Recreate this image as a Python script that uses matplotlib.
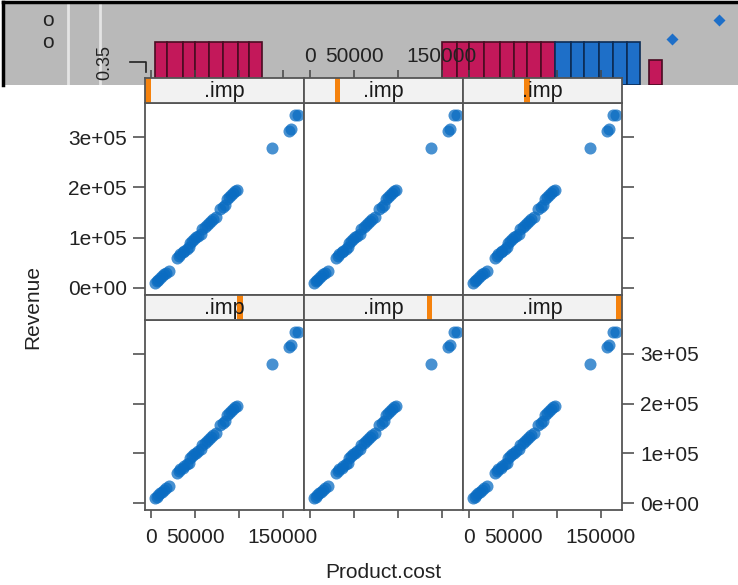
import matplotlib.pyplot as plt
import matplotlib.patches as patches
import numpy as np

plt.rcParams['font.family'] = ['Liberation Sans', 'DejaVu Sans']

# observed Product.cost / Revenue pairs (same in every .imp panel)
product_cost = [4500, 6500, 8500, 10500, 12500, 15000, 17500, 20000,
                29500, 31500, 33500, 36000, 38000, 40500, 43000,
                44000, 46500, 49000, 51500, 54000, 56500,
                58500, 61000, 63500, 66000, 68500, 71000, 73500,
                79000, 81500, 84500,
                86000, 88500, 91000, 93500, 96000, 98000,
                137500, 157000, 159000, 164000, 167000]
revenue = [10000, 13000, 16500, 19500, 23000, 27000, 30500, 34000,
           60000, 64000, 68000, 71000, 74000, 78000, 81000,
           90000, 94000, 98000, 101000, 104000, 108000,
           117000, 121000, 125000, 129000, 133000, 137000, 141000,
           157000, 161000, 165000,
           177000, 181000, 185000, 189000, 193000, 195000,
           279000, 313000, 317000, 344000, 344000]

imp_levels = [0, 1, 2, 3, 4, 5]
x_ticks = [0, 50000, 100000, 150000]
x_ticklabels = ['0', '50000', '', '150000']
y_ticks = [0, 100000, 200000, 300000]
y_ticklabels = ['0e+00', '1e+05', '2e+05', '3e+05']

# piece of another figure showing across the top (pixel units)
red_edges_1 = [155, 167, 183, 195, 209, 223, 238, 249, 262]
red_edges_2 = [442, 457, 469, 484, 500, 514, 527, 541, 555]
blue_edges = [555, 571, 584, 599, 613, 627, 640]
small_red_edges = [649, 662]
bar_top, small_bar_top, bar_base = 42, 60, 85
diamond_x = [672, 719]
diamond_y = [39, 20]

W, H = 738, 585
fig = plt.figure(figsize=(W / 100, H / 100), dpi=100)


def px_axes(x0, y0, x1, y1):
    return fig.add_axes([x0 / W, 1 - y1 / H, (x1 - x0) / W, (y1 - y0) / H])


# grey band at the top
top = px_axes(3, 2, 738, 85)
top.set_facecolor('#b9b9b9')
top.set_xlim(3, 738)
top.set_ylim(85, 2)
top.set_xticks([])
top.set_yticks([])
for s in ['bottom', 'right']:
    top.spines[s].set_visible(False)
for s in ['top', 'left']:
    top.spines[s].set_color('black')
    top.spines[s].set_linewidth(2.5)
for xv in [68, 100]:
    top.axvline(xv, color='#e4e4e4', lw=2)
for edges, col, ec, ytop in [(red_edges_1, '#C3185A', '#4a0c22', bar_top),
                             (red_edges_2, '#C3185A', '#4a0c22', bar_top),
                             (blue_edges, '#1E6FC8', '#0c2c55', bar_top),
                             (small_red_edges, '#C3185A', '#4a0c22', small_bar_top)]:
    e = np.array(edges)
    top.bar(e[:-1], bar_base - ytop, width=np.diff(e), bottom=ytop, align='edge',
            color=col, edgecolor=ec, linewidth=1.2)
top.plot(diamond_x, diamond_y, 'D', color='#1E6FC8', ms=6, mec='none')
top.text(48, 21, 'o', ha='center', va='center', fontsize=15, color='#222')
top.text(48, 42, 'o', ha='center', va='center', fontsize=15, color='#222')
top.text(105, 63, '0.35', rotation=90, ha='center', va='center', fontsize=13, color='#222')
top.plot([130, 146, 146], [62, 62, 72], color='#222', lw=1.2)

# lattice panels
col_x = [145, 304, 463, 622]
rows = [(78, 103, 295), (295, 320, 510)]
xlim = (-6800, 173900)
ylim = (-14000, 368000)
frame = '#555555'
bar_w = 0.035

for k, lev in enumerate(imp_levels):
    r, c = divmod(k, 3)
    s_top, p_top, p_bot = rows[r]
    x0, x1 = col_x[c], col_x[c + 1]

    ax = px_axes(x0, p_top, x1, p_bot)
    ax.scatter(product_cost, revenue, s=75, c='#0a6cc2', alpha=0.75, linewidths=0)
    ax.set_xlim(xlim)
    ax.set_ylim(ylim)
    ax.set_xticks(x_ticks, x_ticklabels)
    ax.set_yticks(y_ticks, y_ticklabels)
    ax.tick_params(axis='y', length=8.5, pad=4.5)
    ax.tick_params(axis='x', length=6, pad=7)
    ax.tick_params(direction='out', width=1.1, color='#444', labelsize=15, labelcolor='#222',
                   left=(c == 0), right=(c == 2), top=False, bottom=(r == 1),
                   labelleft=(c == 0 and r == 0), labelright=(c == 2 and r == 1),
                   labelbottom=(r == 1 and c != 1), labeltop=False)
    for s in ax.spines.values():
        s.set_color(frame)
        s.set_linewidth(1.3)

    st = px_axes(x0, s_top, x1, p_top)
    st.set_facecolor('#f2f2f2')
    st.set_xlim(xlim)
    st.set_ylim(0, 1)
    st.set_yticks([])
    st.set_xticks(x_ticks, x_ticklabels)
    st.tick_params(axis='x', direction='out', length=6, pad=3, width=1.1, color='#444',
                   labelsize=15, labelcolor='#222', bottom=False, labelbottom=False,
                   top=(r == 0), labeltop=(r == 0 and c == 1))
    pos = lev / (len(imp_levels) - 1) * (1 - bar_w)
    st.add_patch(patches.Rectangle((pos, 0), bar_w, 1, transform=st.transAxes,
                                   color='#F5820D', lw=0))
    st.text(0.5, 0.45, '.imp', transform=st.transAxes, ha='center', va='center',
            fontsize=15.5, color='#1a1a1a')
    for s in st.spines.values():
        s.set_color(frame)
        s.set_linewidth(1.3)

fig.text(383 / W, 1 - 572 / H, 'Product.cost', ha='center', va='center', fontsize=15, color='#222')
fig.text(33 / W, 1 - 307 / H, 'Revenue', rotation=90, ha='center', va='center', fontsize=15, color='#222')

fig.savefig('out.png', dpi=100)
